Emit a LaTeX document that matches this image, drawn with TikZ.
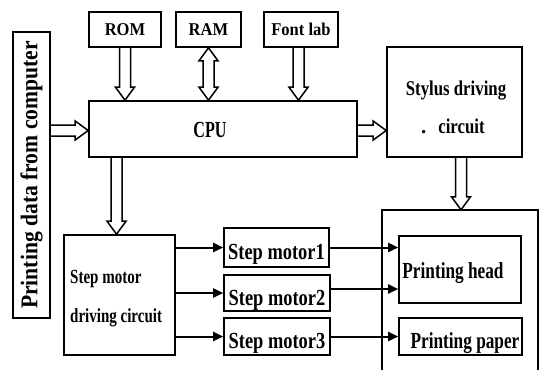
\documentclass[tikz,border=0pt]{standalone}
\usepackage{fontspec}
\setmainfont{Liberation Serif}
\usepackage{graphicx}
\usetikzlibrary{calc,arrows.meta}
\newcommand\sx[2]{\scalebox{#1}[1]{#2}}
% hollow (outlined) arrow from #1 to #2
\newcommand\harrow[2]{%
  \path (#1) coordinate (hA) (#2) coordinate (hB);
  \path ($(hB)!13pt!(hA)$) coordinate (hC);
  \draw[hollow] ($(hA)!5.5pt!90:(hB)$) -- ($(hC)!5.5pt!90:(hB)$) -- ($(hC)!9.5pt!90:(hB)$) -- (hB)
     -- ($(hC)!9.5pt!-90:(hB)$) -- ($(hC)!5.5pt!-90:(hB)$) -- ($(hA)!5.5pt!-90:(hB)$);
}
% hollow double-headed arrow from #1 to #2
\newcommand\hdarrow[2]{%
  \path (#1) coordinate (hA) (#2) coordinate (hB);
  \path ($(hB)!13pt!(hA)$) coordinate (hC) ($(hA)!13pt!(hB)$) coordinate (hD);
  \draw[hollow] ($(hD)!5.5pt!90:(hB)$) -- ($(hC)!5.5pt!90:(hB)$) -- ($(hC)!9.5pt!90:(hB)$) -- (hB)
     -- ($(hC)!9.5pt!-90:(hB)$) -- ($(hC)!5.5pt!-90:(hB)$) -- ($(hD)!5.5pt!-90:(hB)$)
     -- ($(hD)!9.5pt!-90:(hB)$) -- (hA) -- ($(hD)!9.5pt!90:(hB)$) -- cycle;
}
\begin{document}
\begin{tikzpicture}[x=1pt,y=-1pt,
  box/.style={draw, line width=1.6pt, inner sep=0pt, font=\bfseries},
  hollow/.style={draw, line width=1.5pt, line join=miter},
  solidarrow/.style={line width=2pt, -{Triangle[length=10pt,width=9pt]}},
  ftop/.style={font=\bfseries\fontsize{18}{18}\selectfont, text height=11pt, text depth=0pt},
  fcpu/.style={font=\bfseries\fontsize{23}{23}\selectfont, text height=16pt, text depth=0pt},
  fsm/.style={font=\bfseries\fontsize{23}{23}\selectfont, text height=24pt, text depth=0pt},
  fpr/.style={font=\bfseries\fontsize{23}{23}\selectfont, text depth=0pt},
  lbl/.style={inner sep=0pt, font=\bfseries\fontsize{21}{21}\selectfont},
  lblc/.style={inner sep=0pt, font=\bfseries\fontsize{20}{20}\selectfont, anchor=base west}]
\path[fill=white, use as bounding box] (0,0) rectangle (545,370);

% boxes
\node[box, minimum width=37, minimum height=286, font=\bfseries\fontsize{24}{24}\selectfont]
  (data) at (31.5,175) {\rotatebox{90}{\sx{0.9}{Printing data from computer}}};
\node[box, ftop, minimum width=72, minimum height=35] (rom) at (125,29.5) {\sx{0.92}{ROM}};
\node[box, ftop, minimum width=65, minimum height=35] (ram) at (208.5,29.5) {\sx{0.92}{RAM}};
\node[box, ftop, minimum width=74, minimum height=35] (font) at (301,29.5) {\sx{0.92}{Font lab}};
\node[box, fcpu, minimum width=268, minimum height=56] (cpu) at (223,129) {\hspace*{-26pt}\sx{0.7}{CPU}};
\node[box, minimum width=135, minimum height=110] (sty) at (454.5,102) {};
\node[lbl, anchor=base] (sty1) at (456,95) {\sx{0.8}{Stylus driving}};
\node[lbl, anchor=base] (sty2) at (461.5,133) {\makebox[0pt][r]{.\hspace{12pt}}\sx{0.8}{circuit}};
\node[minimum width=156, minimum height=160, inner sep=0pt] (outer) at (460,290) {};
\draw[line width=1.6pt] (outer.south west) |- (outer.north east) -- (outer.south east);
\node[box, fpr, text height=17pt, minimum width=122, minimum height=67] (head) at (460,269.5)
  {\sx{0.75}{Printing head}\hspace*{14pt}};
\node[box, fpr, text height=23pt, minimum width=123, minimum height=37] (paper) at (460.5,336.5)
  {\hspace*{9pt}\sx{0.75}{Printing paper}};
\node[box, minimum width=111, minimum height=120] (circ) at (119.5,295) {};
\node[lblc] (circ1) at (70,283) {\sx{0.75}{Step motor}};
\node[lblc] (circ2) at (70,322) {\sx{0.75}{driving circuit}};
\node[box, fsm, minimum width=105, minimum height=39] (sm1) at (276.5,247.5) {\sx{0.8}{Step motor1}};
\node[box, fsm, minimum width=106, minimum height=36] (sm2) at (277,293) {\sx{0.8}{Step motor2}};
\node[box, fsm, minimum width=106, minimum height=37] (sm3) at (277,336.5) {\sx{0.8}{Step motor3}};

% hollow arrows
\harrow{rom.south}{rom.south |- cpu.north}
\hdarrow{ram.south}{ram.south |- cpu.north}
\coordinate (fa) at ($(font.south)+(-2.5,0)$);
\harrow{fa}{fa |- cpu.north}
\coordinate (da) at ($(cpu.west)+(0,1.5)$);
\harrow{data.east |- da}{da}
\coordinate (ca) at ($(cpu.east)+(0,1.5)$);
\harrow{ca}{ca -| sty.west}
\coordinate (sa) at ($(sty.south)+(6.5,0)$);
\harrow{sa}{sa |- outer.north}
\coordinate (ma) at ($(circ.north)+(-3,0)$);
\harrow{ma |- cpu.south}{ma}

% solid arrows
\draw[solidarrow] (circ.east |- sm1) -- (sm1.west);
\draw[solidarrow] (circ.east |- sm2) -- (sm2.west);
\draw[solidarrow] (circ.east |- sm3) -- (sm3.west);
\draw[solidarrow] (sm1.east) -- (sm1.east -| head.west);
\coordinate (s2o) at ($(sm2.east)+(0,-4)$);
\draw[solidarrow] (s2o) -- (s2o -| head.west);
\draw[solidarrow] (sm3.east) -- (sm3.east -| paper.west);
\end{tikzpicture}
\end{document}
